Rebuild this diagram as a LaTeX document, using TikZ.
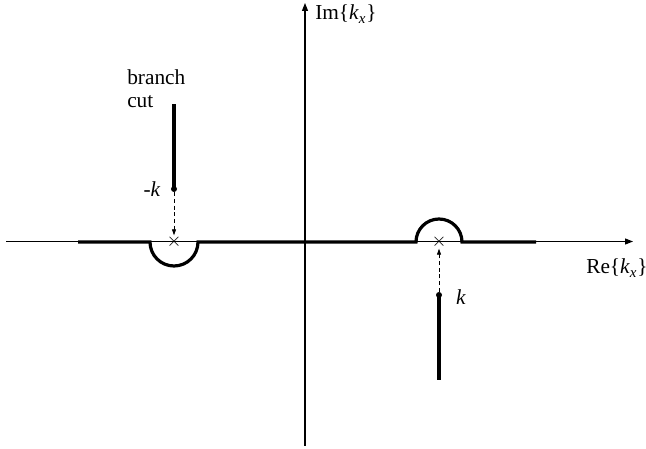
\documentclass[tikz,border=0pt]{standalone}
\usepackage{fontspec}
\setmainfont{Liberation Serif}
\usetikzlibrary{arrows.meta}
\begin{document}
\begin{tikzpicture}[x=0.75pt,y=0.75pt,
  axis/.style={line width=0.8pt,-{Triangle[length=6pt,width=4.5pt]}},
  contour/.style={line width=2.4pt},
  cutline/.style={line width=2.4pt},
  guide/.style={densely dashed,line width=0.6pt,-{Triangle[length=4.5pt,width=3pt]}},
  crossmark/.style={inner sep=0pt,font=\fontsize{14}{14}\selectfont},
  dotmark/.style={circle,fill,inner sep=0pt,minimum size=4.5pt},
  lbl/.style={inner sep=0pt,font=\fontsize{16}{17.5}\selectfont}]
\useasboundingbox (0,0) rectangle (646,449);
% axes
\coordinate (xl) at (6,207.5);
\coordinate (xr) at (633,207.5);
\coordinate (yb) at (305,3);
\coordinate (yt) at (305,446);
\draw[axis] (xl) -- (xr);
\draw[axis] (yb) -- (yt);
% contour
\coordinate (c1) at (78,207);
\coordinate (c2) at (150,207);
\coordinate (c4) at (416,207);
\coordinate (c6) at (536,207);
\draw[contour] (c1) -- (c2) arc[start angle=180,end angle=360,radius=24] -- (c4)
  arc[start angle=180,end angle=0,radius=23] -- (c6);
% crosses
\node[crossmark] (xa) at (174,207) {$\times$};
\node[crossmark] (xb) at (439,207) {$\times$};
% branch cuts
\node[dotmark] (da) at (174,260) {};
\coordinate (ta) at (174,345);
\draw[cutline] (da.center) -- (ta);
\node[dotmark] (db) at (439,154) {};
\coordinate (tb) at (439,69);
\draw[cutline] (db.center) -- (tb);
% dashed guides
\draw[guide] (da) -- (xa.north);
\draw[guide] (db) -- (xb.south);
% labels
\node[lbl,align=left,anchor=west] (bc) at (127,360) {branch\\cut};
\node[lbl] (mk) at (152,260) {-\textit{k}};
\node[lbl] (pk) at (461,152) {\textit{k}};
\node[lbl,anchor=west] (im) at (315,435) {Im\{\textit{k}\textsubscript{\textit{x}}\}};
\node[lbl,anchor=west] (re) at (586,181) {Re\{\textit{k}\textsubscript{\textit{x}}\}};
\end{tikzpicture}
\end{document}
